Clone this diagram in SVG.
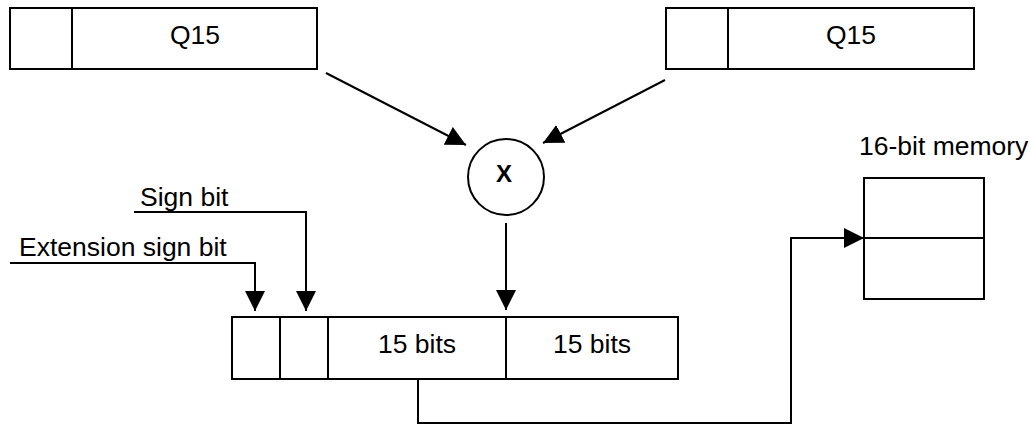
<svg xmlns="http://www.w3.org/2000/svg" width="1031" height="425" viewBox="0 0 1031 425">
  <style>
    .box { fill: #ffffff; stroke: #000000; stroke-width: 2; }
    .div { stroke: #000000; stroke-width: 2; fill: none; }
    .conn { stroke: #000000; stroke-width: 2; fill: none; }
    .lbl { font-family: "Liberation Sans", Arial, sans-serif; font-size: 26.5px; fill: #000000; }
    .mid { text-anchor: middle; }
    .bold { font-weight: bold; font-size: 24px; }
  </style>
  <defs>
    <marker id="arrow" markerUnits="userSpaceOnUse" markerWidth="21" markerHeight="21" refX="20" refY="10" orient="auto" viewBox="0 0 21 21">
      <path d="M0,0 L20,10 L0,20 Z" fill="#000000"/>
    </marker>
  </defs>
  <rect x="0" y="0" width="1031" height="425" fill="#ffffff"/>

  <g id="q15-left">
    <rect class="box" x="10" y="8" width="307" height="61"/>
    <line class="div" x1="72" y1="8" x2="72" y2="69"/>
    <text class="lbl mid" x="195" y="44">Q15</text>
  </g>

  <g id="q15-right">
    <rect class="box" x="666" y="8" width="308" height="61"/>
    <line class="div" x1="728" y1="8" x2="728" y2="69"/>
    <text class="lbl mid" x="851" y="44">Q15</text>
  </g>

  <g id="multiply">
    <circle class="box" cx="506" cy="177" r="38"/>
    <text class="lbl mid bold" x="504" y="182">X</text>
  </g>

  <g id="result-register">
    <rect class="box" x="232" y="317" width="446" height="62"/>
    <line class="div" x1="280" y1="317" x2="280" y2="379"/>
    <line class="div" x1="328" y1="317" x2="328" y2="379"/>
    <line class="div" x1="506" y1="317" x2="506" y2="379"/>
    <text class="lbl mid" x="417" y="353">15 bits</text>
    <text class="lbl mid" x="592" y="353">15 bits</text>
  </g>

  <g id="memory">
    <text class="lbl" x="859" y="155">16-bit memory</text>
    <rect class="box" x="864" y="178" width="120" height="121"/>
    <line class="div" x1="864" y1="238" x2="984" y2="238"/>
  </g>

  <g id="sign-bit-label">
    <text class="lbl" x="140" y="206">Sign bit</text>
  </g>

  <g id="extension-sign-bit-label">
    <text class="lbl" x="19" y="256">Extension sign bit</text>
  </g>

  <g id="connectors">
    <line class="conn" x1="326" y1="73" x2="466" y2="145" marker-end="url(#arrow)"/>
    <line class="conn" x1="665" y1="80" x2="543" y2="143" marker-end="url(#arrow)"/>
    <line class="conn" x1="506" y1="223" x2="506" y2="310" marker-end="url(#arrow)"/>
    <polyline class="conn" points="134,212 306,212 306,311" marker-end="url(#arrow)"/>
    <polyline class="conn" points="10,263 255,263 255,311" marker-end="url(#arrow)"/>
    <polyline class="conn" points="418,379 418,423 791,423 791,238 864,238" marker-end="url(#arrow)"/>
  </g>
</svg>
